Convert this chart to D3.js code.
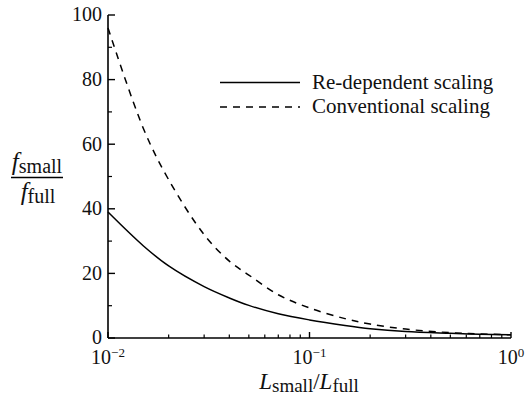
<!DOCTYPE html>
<html>
<head>
<meta charset="utf-8">
<script src="https://cdn.jsdelivr.net/npm/d3@7"></script>
<style>
  html, body { margin: 0; padding: 0; background: #fff; }
  svg { display: block; }
</style>
</head>
<body>
<svg id="chart" width="526" height="403"></svg>
<script>
// Length ratio L_small / L_full (log axis)
const ratios = [0.01, 0.015, 0.02, 0.03, 0.04, 0.05, 0.07, 0.1, 0.15, 0.2, 0.3, 0.5, 0.7, 1.0];
// Friction-factor ratio f_small / f_full
const reDependent = [39, 28.5, 22.3, 15.9, 12.4, 10.1, 7.5, 5.6, 3.9, 2.9, 2.0, 1.45, 1.15, 1.0];
const conventional = [96, 64.8, 49, 32, 23.8, 19.5, 13.4, 9.3, 6.0, 4.3, 2.75, 1.65, 1.25, 1.0];
const seriesNames = ["Re-dependent scaling", "Conventional scaling"];

const yTicks = [0, 20, 40, 60, 80, 100];
const yMinorTicks = [10, 30, 50, 70, 90];
const xMajorTicks = [0.01, 0.1, 1];
const xExponents = ["\u22122", "\u22121", "0"];
const xMinorTicks = [0.02, 0.03, 0.04, 0.05, 0.06, 0.07, 0.08, 0.09,
                     0.2, 0.3, 0.4, 0.5, 0.6, 0.7, 0.8, 0.9];

const ink = "#111";
const serif = "'Liberation Serif'";
const svg = d3.select("#chart");
const x = d3.scaleLog().domain([0.01, 1]).range([108, 511]);
const y = d3.scaleLinear().domain([0, 100]).range([338, 15]);

// axis lines (left and bottom only)
svg.append("line").attr("x1", x(0.01)).attr("x2", x(0.01))
  .attr("y1", y(0)).attr("y2", y(100))
  .attr("stroke", "#000").attr("stroke-width", 1.6);
svg.append("line").attr("x1", x(0.01)).attr("x2", x(1))
  .attr("y1", y(0)).attr("y2", y(0))
  .attr("stroke", "#000").attr("stroke-width", 1.6);

// y ticks point inward
svg.selectAll(".ytick").data(yTicks).join("line")
  .attr("x1", x(0.01)).attr("x2", x(0.01) + 7)
  .attr("y1", d => y(d)).attr("y2", d => y(d))
  .attr("stroke", "#000").attr("stroke-width", 1.4);
svg.selectAll(".yminor").data(yMinorTicks).join("line")
  .attr("x1", x(0.01)).attr("x2", x(0.01) + 4)
  .attr("y1", d => y(d)).attr("y2", d => y(d))
  .attr("stroke", "#000").attr("stroke-width", 1.2);
svg.selectAll(".ylabel").data(yTicks).join("text")
  .attr("x", x(0.01) - 6).attr("y", d => y(d)).attr("dy", "0.32em")
  .attr("text-anchor", "end").attr("font-size", 20).attr("fill", ink)
  .style("font-family", serif)
  .text(d => d);

// x ticks point inward
svg.selectAll(".xtick").data(xMajorTicks).join("line")
  .attr("x1", d => x(d)).attr("x2", d => x(d))
  .attr("y1", y(0)).attr("y2", y(0) - 6)
  .attr("stroke", "#000").attr("stroke-width", 1.4);
svg.selectAll(".xminor").data(xMinorTicks).join("line")
  .attr("x1", d => x(d)).attr("x2", d => x(d))
  .attr("y1", y(0)).attr("y2", y(0) - 3.5)
  .attr("stroke", "#000").attr("stroke-width", 1.2);
const xl = svg.selectAll(".xlabel").data(xMajorTicks).join("text")
  .attr("x", d => x(d)).attr("y", 364)
  .attr("text-anchor", "middle").attr("font-size", 20).attr("fill", ink)
  .style("font-family", serif);
xl.append("tspan").text("10");
xl.append("tspan").attr("font-size", 13).attr("dy", -7)
  .text((d, i) => xExponents[i]);

// curves
const line = d3.line()
  .x(d => x(d[0])).y(d => y(d[1]))
  .curve(d3.curveCatmullRom.alpha(0.5));
svg.append("path").datum(ratios.map((r, i) => [r, reDependent[i]]))
  .attr("d", line).attr("fill", "none")
  .attr("stroke", "#000").attr("stroke-width", 1.5);
svg.append("path").datum(ratios.map((r, i) => [r, conventional[i]]))
  .attr("d", line).attr("fill", "none")
  .attr("stroke", "#000").attr("stroke-width", 1.5)
  .attr("stroke-dasharray", "7,6");

// legend
const legendRows = [
  { name: seriesNames[0], dash: null, y: 82.5 },
  { name: seriesNames[1], dash: "7,6", y: 107 }
];
legendRows.forEach(r => {
  svg.append("line").attr("x1", 220).attr("x2", 300)
    .attr("y1", r.y).attr("y2", r.y)
    .attr("stroke", "#000").attr("stroke-width", 1.5)
    .attr("stroke-dasharray", r.dash);
  svg.append("text").attr("x", 312).attr("y", r.y + 6)
    .attr("font-size", 21).attr("fill", ink)
    .style("font-family", serif).text(r.name);
});

// y-axis title: f_small over f_full
const yt = svg.append("g").attr("fill", ink);
const num = yt.append("text").attr("x", 37).attr("y", 170)
  .attr("text-anchor", "middle").attr("font-size", 25)
  .style("font-family", serif);
num.append("tspan").attr("font-style", "italic").text("f");
num.append("tspan").attr("font-size", 20).attr("dy", 3).text("small");
yt.append("line").attr("x1", 11).attr("x2", 63)
  .attr("y1", 177.5).attr("y2", 177.5)
  .attr("stroke", "#000").attr("stroke-width", 1.3);
const den = yt.append("text").attr("x", 38).attr("y", 200)
  .attr("text-anchor", "middle").attr("font-size", 25)
  .style("font-family", serif);
den.append("tspan").attr("font-style", "italic").text("f");
den.append("tspan").attr("font-size", 20).attr("dy", 3).text("full");

// x-axis title: L_small / L_full
const xt = svg.append("text").attr("x", 309).attr("y", 389)
  .attr("text-anchor", "middle").attr("font-size", 23).attr("fill", ink)
  .style("font-family", serif);
xt.append("tspan").attr("font-style", "italic").text("L");
xt.append("tspan").attr("font-size", 19).attr("dy", 3).text("small");
xt.append("tspan").attr("dy", -3).text("/");
xt.append("tspan").attr("font-style", "italic").text("L");
xt.append("tspan").attr("font-size", 19).attr("dy", 3).text("full");
</script>
</body>
</html>
